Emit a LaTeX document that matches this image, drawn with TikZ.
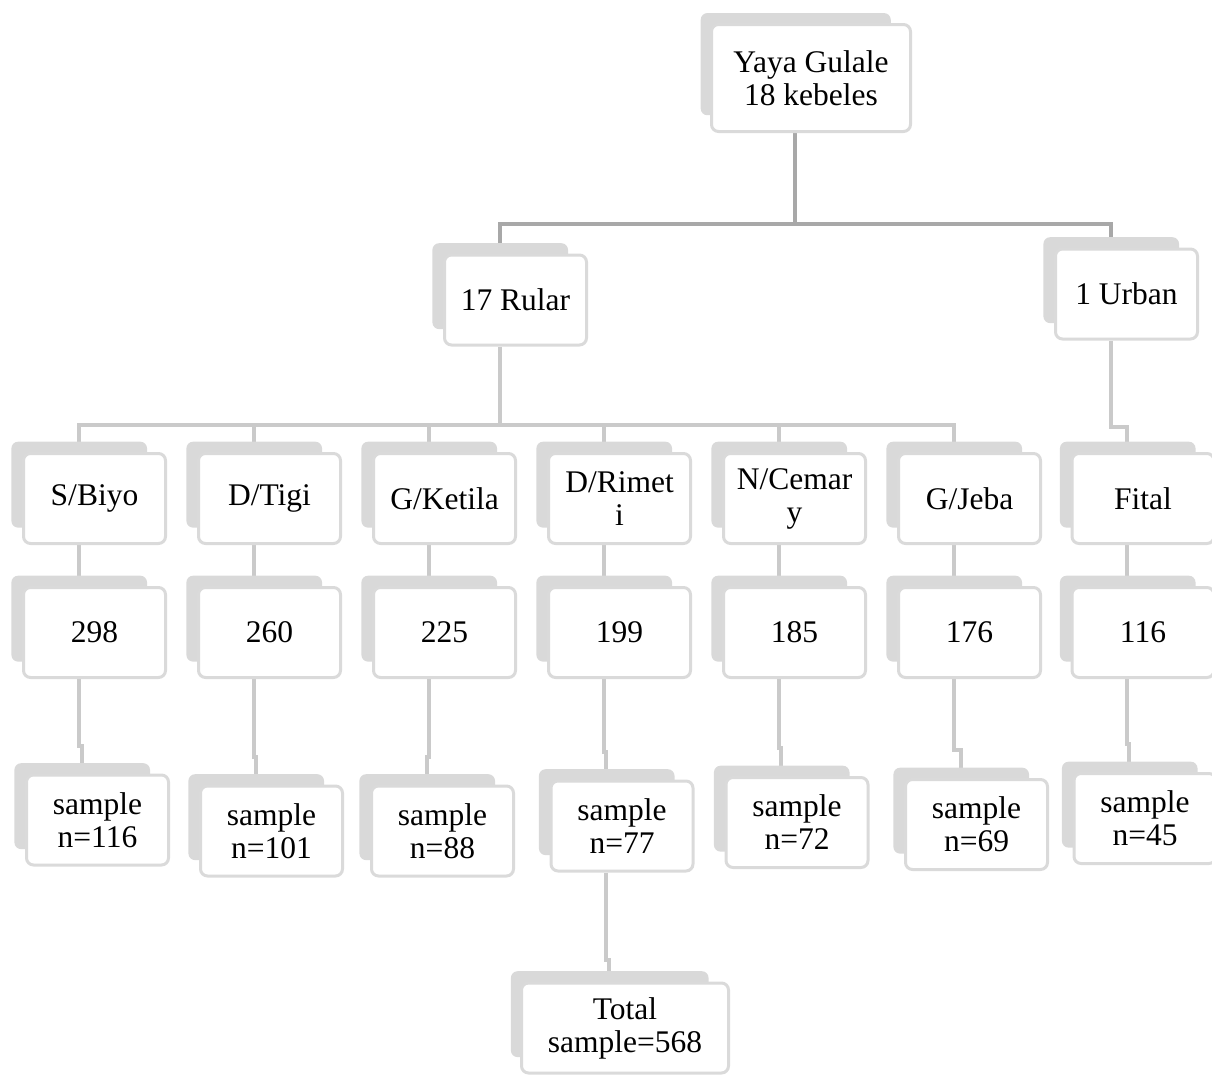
\documentclass[tikz,border=0pt]{standalone}
\usepackage{fontspec}
\setmainfont{Liberation Serif}
\usepackage{xcolor}
\usepackage{tikz}
\usetikzlibrary{shadows,backgrounds}

\definecolor{boxline}{RGB}{218,218,218}
\definecolor{boxback}{RGB}{217,217,217}
\definecolor{linetop}{RGB}{168,168,168}
\definecolor{linelow}{RGB}{202,202,202}

\begin{document}
\begin{tikzpicture}[x=1pt,y=-1pt,
  box/.style={draw=boxline,line width=3pt,fill=white,rounded corners=7pt,
    minimum width=142pt,minimum height=90pt,inner sep=0pt,align=center,
    font=\fontsize{31.5}{33}\selectfont,
    general shadow={fill=boxback,shadow xshift=-16pt,shadow yshift=14.5pt,
      shadow scale=0.955}},
  link/.style={draw=linelow,line width=4pt},
  toplink/.style={draw=linetop,line width=4pt}]
\useasboundingbox (0,0) rectangle (1212,1074);

% district and kebele groups
\node[box,minimum width=199pt,minimum height=107pt] (yaya) at (811,78) {Yaya Gulale\\18 kebeles};
\node[box] (rular) at (515.5,300) {17 Rular};
\node[box] (urban) at (1126.5,294) {1 Urban};

% selected kebeles
\node[box] (biyo) at (94.5,498.5) {S/Biyo};
\node[box] (tigi) at (269.5,498.5) {D/Tigi};
\node[box] (ketila) at (444.5,498.5) {G/Ketila};
\node[box] (rimeti) at (619.5,498.5) {D/Rimet\\i};
\node[box] (cemary) at (794.5,498.5) {N/Cemar\\y};
\node[box] (jeba) at (969.5,498.5) {G/Jeba};
\node[box] (fital) at (1143,498.5) {Fital};

% households
\node[box] (nbiyo) at (94.5,632.5) {298};
\node[box] (ntigi) at (269.5,632.5) {260};
\node[box] (nketila) at (444.5,632.5) {225};
\node[box] (nrimeti) at (619.5,632.5) {199};
\node[box] (ncemary) at (794.5,632.5) {185};
\node[box] (njeba) at (969.5,632.5) {176};
\node[box] (nfital) at (1143,632.5) {116};

% samples
\node[box] (sbiyo) at (97.5,820) {sample\\n=116};
\node[box] (stigi) at (271.5,831) {sample\\n=101};
\node[box] (sketila) at (442.5,831) {sample\\n=88};
\node[box] (srimeti) at (622,826) {sample\\n=77};
\node[box] (scemary) at (797,822.5) {sample\\n=72};
\node[box] (sjeba) at (976.5,824.5) {sample\\n=69};
\node[box] (sfital) at (1145,818.5) {sample\\n=45};

\node[box,minimum width=207pt] (total) at (625,1028) {Total\\sample=568};

\coordinate (topbus) at (795,224);
\coordinate (namebus) at (499.5,425);

\begin{scope}[on background layer]
\draw[toplink] ([xshift=-16pt]yaya.south) -- (topbus) -| ([xshift=-16pt]rular.north);
\draw[toplink] (topbus) -| ([xshift=-16pt]urban.north);

\draw[link] ([xshift=-16pt]rular.south) -- (namebus) -| ([xshift=-16pt]biyo.north);
\draw[link] (namebus) -| ([xshift=-16pt]tigi.north);
\draw[link] (namebus) -| ([xshift=-16pt]ketila.north);
\draw[link] (namebus) -| ([xshift=-16pt]rimeti.north);
\draw[link] (namebus) -| ([xshift=-16pt]cemary.north);
\draw[link] (namebus) -| ([xshift=-16pt]jeba.north);
\draw[link] ([xshift=-16pt]urban.south) |- ([xshift=-16pt,yshift=25pt]fital.north) -- ([xshift=-16pt]fital.north);

\draw[link] ([xshift=-16pt]biyo.south) -- ([xshift=-16pt]nbiyo.north);
\draw[link] ([xshift=-16pt]tigi.south) -- ([xshift=-16pt]ntigi.north);
\draw[link] ([xshift=-16pt]ketila.south) -- ([xshift=-16pt]nketila.north);
\draw[link] ([xshift=-16pt]rimeti.south) -- ([xshift=-16pt]nrimeti.north);
\draw[link] ([xshift=-16pt]cemary.south) -- ([xshift=-16pt]ncemary.north);
\draw[link] ([xshift=-16pt]jeba.south) -- ([xshift=-16pt]njeba.north);
\draw[link] ([xshift=-16pt]fital.south) -- ([xshift=-16pt]nfital.north);

\draw[link] ([xshift=-16pt]nbiyo.south) |- ([xshift=-16pt,yshift=28pt]sbiyo.north) -- ([xshift=-16pt]sbiyo.north);
\draw[link] ([xshift=-16pt]ntigi.south) |- ([xshift=-16pt,yshift=28pt]stigi.north) -- ([xshift=-16pt]stigi.north);
\draw[link] ([xshift=-16pt]nketila.south) |- ([xshift=-16pt,yshift=28pt]sketila.north) -- ([xshift=-16pt]sketila.north);
\draw[link] ([xshift=-16pt]nrimeti.south) |- ([xshift=-16pt,yshift=28pt]srimeti.north) -- ([xshift=-16pt]srimeti.north);
\draw[link] ([xshift=-16pt]ncemary.south) |- ([xshift=-16pt,yshift=28pt]scemary.north) -- ([xshift=-16pt]scemary.north);
\draw[link] ([xshift=-16pt]njeba.south) |- ([xshift=-16pt,yshift=28pt]sjeba.north) -- ([xshift=-16pt]sjeba.north);
\draw[link] ([xshift=-16pt]nfital.south) |- ([xshift=-16pt,yshift=28pt]sfital.north) -- ([xshift=-16pt]sfital.north);

\draw[link] ([xshift=-16pt]srimeti.south) |- ([xshift=-16pt,yshift=22pt]total.north) -- ([xshift=-16pt]total.north);
\end{scope}
\end{tikzpicture}
\end{document}
